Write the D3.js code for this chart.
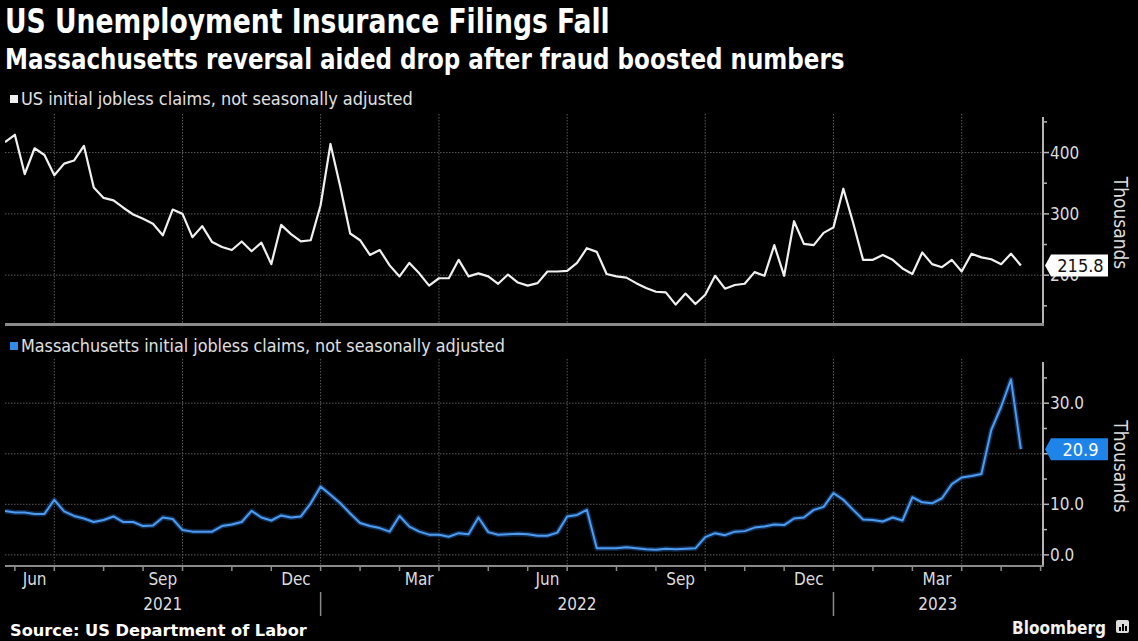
<!DOCTYPE html>
<html>
<head>
<meta charset="utf-8">
<script src="https://cdn.jsdelivr.net/npm/d3@7"></script>
<style>
  html, body { margin: 0; padding: 0; background: #000; }
  svg { display: block; }
  text { font-family: "DejaVu Sans Condensed", "DejaVu Sans", sans-serif; }
</style>
</head>
<body>
<svg id="chart" width="1138" height="641"></svg>
<script>
// Weekly observations (week ending Saturday), first week ending 2021-05-22
const firstWeek = "2021-05-22";
const lastAxisDay = "2023-05-28";

// US initial jobless claims, not seasonally adjusted (thousands)
const usClaims = [
  417, 429, 365, 407, 396, 363, 382, 387, 411, 343,
  326, 322, 310, 299, 292, 284, 265, 307, 300, 262,
  280, 254, 246, 241, 255, 239, 253, 218, 282, 267,
  255, 257, 314, 414, 344, 268, 257, 233, 241, 216,
  198, 220, 203, 183, 195, 195, 225, 198, 203, 198,
  186, 201, 188, 183, 187, 206, 206, 207, 220, 244,
  238, 202, 198, 196, 187, 179, 173, 172, 152, 170,
  153, 168, 199, 178, 184, 186, 205, 199, 249, 199,
  288, 251, 249, 269, 278, 341, 285, 225, 225, 233,
  225, 211, 202, 237, 218, 213, 225, 206, 235, 229,
  226, 218, 235, 215.8
];

// Massachusetts initial jobless claims, not seasonally adjusted (thousands)
const maClaims = [
  8.7, 8.4, 8.4, 8.1, 8.1, 10.9, 8.6, 7.7, 7.2, 6.5,
  6.9, 7.6, 6.5, 6.5, 5.7, 5.8, 7.4, 7.1, 4.9, 4.6,
  4.6, 4.6, 5.7, 6.0, 6.5, 8.7, 7.4, 6.8, 7.8, 7.4,
  7.6, 10.2, 13.5, 11.9, 10.2, 8.2, 6.3, 5.7, 5.3, 4.6,
  7.7, 5.6, 4.6, 4.0, 4.0, 3.6, 4.3, 4.1, 7.4, 4.5,
  4.0, 4.1, 4.2, 4.1, 3.8, 3.8, 4.4, 7.6, 7.9, 8.9,
  1.3, 1.3, 1.3, 1.5, 1.3, 1.1, 1.0, 1.2, 1.1, 1.2,
  1.3, 3.5, 4.3, 3.9, 4.6, 4.7, 5.4, 5.6, 6.0, 5.9,
  7.2, 7.4, 8.9, 9.5, 12.2, 10.9, 8.9, 7.0, 6.9, 6.6,
  7.4, 6.8, 11.4, 10.4, 10.2, 11.2, 14.0, 15.3, 15.6, 16.0,
  24.7, 29.3, 34.7, 20.9
];

// Axis ticks (the 20.0 label sits under the last-value tag, so only the tick is drawn)
const usTickValues = [150, 200, 250, 300, 350, 400, 450];
const usLabelValues = [200, 300, 400];
const usGridValues = [200, 300, 400];
const maTickValues = [0, 5, 10, 15, 20, 25, 30, 35];
const maLabelValues = [0, 10, 30];
const maGridValues = [0, 10, 20, 30];
const labelledMonths = ["Mar", "Jun", "Sep", "Dec"];
const years = [2021, 2022, 2023];

// Text
const titleText = "US Unemployment Insurance Filings Fall";
const subtitleText = "Massachusetts reversal aided drop after fraud boosted numbers";
const usLegend = "US initial jobless claims, not seasonally adjusted";
const maLegend = "Massachusetts initial jobless claims, not seasonally adjusted";
const unitLabel = "Thousands";
const sourceText = "Source: US Department of Labor";
const brandText = "Bloomberg";

const parse = d3.timeParse("%Y-%m-%d");
const start = parse(firstWeek);
const weeks = usClaims.map((_, i) => d3.timeDay.offset(start, 7 * i));

const svg = d3.select("#chart");
const W = 1138, H = 641;
svg.append("rect").attr("width", W).attr("height", H).attr("fill", "#000");

const plotLeft = 5, plotRight = 1042;
const x = d3.scaleTime().domain([start, parse(lastAxisDay)]).range([plotLeft, plotRight]);

const panelTop = { y0: 117, y1: 323 };
const panelBot = { y0: 362, y1: 565 };
const yUS = d3.scaleLinear().domain([122, 458]).range([panelTop.y1, panelTop.y0]);
const yMA = d3.scaleLinear().domain([-2, 38.15]).range([panelBot.y1, panelBot.y0]);

// Snap calendar boundaries to the weekly observation on or before them
const snap = d => d3.timeSaturday.floor(d);
const monthStarts = d3.timeMonth.range(parse("2021-05-01"), parse("2023-07-01"));
const monthTicks = monthStarts.map(snap).filter(d => d >= x.domain()[0] && d <= x.domain()[1]);
const quarterStarts = monthStarts.filter(d => d.getMonth() % 3 === 0).map(snap)
  .filter(d => d > x.domain()[0] && d < x.domain()[1]);

const gridColor = "#5a5a5a";

function drawPanel(g, y, p, ticks) {
  // horizontal grid
  g.selectAll(".hg").data(ticks).join("line")
    .attr("x1", plotLeft).attr("x2", plotRight + 1)
    .attr("y1", d => y(d)).attr("y2", d => y(d))
    .attr("stroke", gridColor).attr("stroke-width", 1).attr("stroke-dasharray", "1.5,1.5");
  // vertical grid
  g.selectAll(".vg").data(quarterStarts).join("line")
    .attr("x1", d => x(d)).attr("x2", d => x(d))
    .attr("y1", p.y0 - 3).attr("y2", p.y1)
    .attr("stroke", gridColor).attr("stroke-width", 1).attr("stroke-dasharray", "1.5,1.5");
}

const gTop = svg.append("g");
drawPanel(gTop, yUS, panelTop, usGridValues);
const gBot = svg.append("g");
drawPanel(gBot, yMA, panelBot, maGridValues);

// clip
const defs = svg.append("defs");
defs.append("clipPath").attr("id", "clipTop").append("rect")
  .attr("x", plotLeft).attr("y", panelTop.y0 - 5).attr("width", plotRight - plotLeft).attr("height", panelTop.y1 - panelTop.y0 + 5);
defs.append("clipPath").attr("id", "clipBot").append("rect")
  .attr("x", plotLeft).attr("y", panelBot.y0 - 5).attr("width", plotRight - plotLeft).attr("height", panelBot.y1 - panelBot.y0 + 5);

// lines
const usLine = d3.line().x((d, i) => x(weeks[i])).y(d => yUS(d));
const maLine = d3.line().x((d, i) => x(weeks[i])).y(d => yMA(d));

gTop.append("path").datum(usClaims).attr("clip-path", "url(#clipTop)")
  .attr("d", usLine).attr("fill", "none").attr("stroke", "#f0f0f0")
  .attr("stroke-width", 2.2).attr("stroke-linejoin", "round");

gBot.append("path").datum(maClaims).attr("clip-path", "url(#clipBot)")
  .attr("d", maLine).attr("fill", "none").attr("stroke", "#173d70")
  .attr("stroke-width", 5).attr("stroke-opacity", 0.7).attr("stroke-linejoin", "round");
gBot.append("path").datum(maClaims).attr("clip-path", "url(#clipBot)")
  .attr("d", maLine).attr("fill", "none").attr("stroke", "#4d9cf0")
  .attr("stroke-width", 2).attr("stroke-linejoin", "round");

// right axes
const axisColor = "#b4b4b4";
const labelColor = "#dcdcdc";
function rightAxis(g, y, p, tickVals, labelVals, fmt) {
  g.append("line").attr("x1", plotRight + 1).attr("x2", plotRight + 1)
    .attr("y1", p.y0).attr("y2", p.y1 + 1)
    .attr("stroke", axisColor).attr("stroke-width", 2);
  g.selectAll(".tk").data(tickVals).join("line")
    .attr("x1", plotRight + 1).attr("x2", d => plotRight + (d % (tickVals[2] - tickVals[0]) === 0 ? 7 : 5))
    .attr("y1", d => y(d)).attr("y2", d => y(d))
    .attr("stroke", axisColor).attr("stroke-width", 1.5);
  g.selectAll(".tl").data(labelVals).join("text")
    .attr("x", plotRight + 8).attr("y", d => y(d)).attr("dy", "0.36em")
    .attr("fill", labelColor).attr("font-size", 17)
    .text(fmt);
  g.append("text")
    .attr("transform", `translate(${1114},${(p.y0 + p.y1) / 2 + 3}) rotate(90)`)
    .attr("text-anchor", "middle").attr("fill", labelColor).attr("font-size", 19)
    .text(unitLabel);
}
rightAxis(gTop, yUS, panelTop, usTickValues, usLabelValues, d3.format("d"));
rightAxis(gBot, yMA, panelBot, maTickValues, maLabelValues, d3.format(".1f"));

// last-value tags
function callout(g, yv, value, fill, color, fmt) {
  const yc = yv;
  const x0 = plotRight + 3, x1 = plotRight + 9, x2 = plotRight + 66, h = 11;
  g.append("path")
    .attr("d", `M${x0},${yc} L${x1},${yc - h} L${x2},${yc - h} L${x2},${yc + h} L${x1},${yc + h} Z`)
    .attr("fill", fill);
  g.append("text").attr("x", (x1 + x2) / 2 + 1).attr("y", yc).attr("dy", "0.36em")
    .attr("text-anchor", "middle").attr("fill", color).attr("font-size", 18)
    .text(fmt(value));
}
callout(gTop, yUS(usClaims[usClaims.length - 1]), usClaims[usClaims.length - 1], "#ffffff", "#111", d3.format(".1f"));
callout(gBot, yMA(maClaims[maClaims.length - 1]), maClaims[maClaims.length - 1], "#1f84ea", "#ffffff", d3.format(".1f"));

// panel separator and bottom axis
svg.append("line").attr("x1", plotLeft).attr("x2", plotRight + 2)
  .attr("y1", panelTop.y1 + 1.5).attr("y2", panelTop.y1 + 1.5)
  .attr("stroke", "#8a8a8a").attr("stroke-width", 3);
svg.append("line").attr("x1", plotLeft).attr("x2", plotRight + 2)
  .attr("y1", panelBot.y1 + 1).attr("y2", panelBot.y1 + 1)
  .attr("stroke", "#8a8a8a").attr("stroke-width", 2);
svg.selectAll(".mt").data(monthTicks).join("line")
  .attr("x1", d => x(d)).attr("x2", d => x(d))
  .attr("y1", panelBot.y1 + 2).attr("y2", panelBot.y1 + 6)
  .attr("stroke", "#8a8a8a").attr("stroke-width", 1.5);

// month labels centred on each labelled month's span
const fmtMonth = d3.timeFormat("%b");
const monthSpans = monthStarts.slice(0, -1).map((m, i) => ({
  name: fmtMonth(m), a: snap(m), b: snap(monthStarts[i + 1])
})).filter(s => labelledMonths.includes(s.name) && s.a >= x.domain()[0] && s.b <= x.domain()[1]);
svg.selectAll(".ml").data(monthSpans).join("text")
  .attr("x", d => (x(d.a) + x(d.b)) / 2).attr("y", 585)
  .attr("text-anchor", "middle").attr("fill", labelColor).attr("font-size", 17)
  .text(d => d.name);

// year labels and separators
const yearSpans = years.map(yr => {
  const a = Math.max(x(snap(new Date(yr, 0, 1))), plotLeft);
  const b = Math.min(x(snap(new Date(yr + 1, 0, 1))), plotRight);
  return { yr, a, b };
});
svg.selectAll(".yl").data(yearSpans).join("text")
  .attr("x", d => (d.a + d.b) / 2).attr("y", 610)
  .attr("text-anchor", "middle").attr("fill", labelColor).attr("font-size", 17)
  .text(d => d.yr);
svg.selectAll(".ys").data(years.slice(1)).join("line")
  .attr("x1", d => x(snap(new Date(d, 0, 1)))).attr("x2", d => x(snap(new Date(d, 0, 1))))
  .attr("y1", 592).attr("y2", 616)
  .attr("stroke", "#8a8a8a").attr("stroke-width", 1.5);

// headings and legends: size each text to its width, optionally in a narrower cut
function fit(sel, width, stretch = 1) {
  const len = sel.node().getComputedTextLength();
  const fs = parseFloat(sel.attr("font-size"));
  sel.attr("font-size", fs * width / len * stretch);
  if (stretch !== 1) {
    const tx = +sel.attr("x"), ty = +sel.attr("y");
    sel.attr("x", 0).attr("y", 0)
      .attr("transform", `translate(${tx},${ty}) scale(${1 / stretch},1)`);
  }
  return sel;
}
fit(svg.append("text").attr("x", 5).attr("y", 33).attr("font-size", 30)
  .attr("font-weight", "bold").attr("fill", "#fff")
  .text(titleText), 605, 1.13);
fit(svg.append("text").attr("x", 5).attr("y", 69).attr("font-size", 22)
  .attr("font-weight", "bold").attr("fill", "#fff")
  .text(subtitleText), 840, 1.1);

svg.append("rect").attr("x", 10).attr("y", 95).attr("width", 8).attr("height", 8).attr("fill", "#f0f0f0");
fit(svg.append("text").attr("x", 21).attr("y", 105).attr("font-size", 15)
  .attr("fill", "#e0e0e0").text(usLegend), 392);
svg.append("rect").attr("x", 10).attr("y", 342).attr("width", 8).attr("height", 8).attr("fill", "#2f8ae8");
fit(svg.append("text").attr("x", 21).attr("y", 352).attr("font-size", 15)
  .attr("fill", "#e0e0e0").text(maLegend), 484);

fit(svg.append("text").attr("x", 10).attr("y", 636).attr("font-size", 15)
  .attr("font-weight", "bold").attr("fill", "#fff")
  .style("font-family", "'DejaVu Sans', sans-serif").text(sourceText), 297);
fit(svg.append("text").attr("x", 1012).attr("y", 634).attr("font-size", 17)
  .attr("font-weight", "bold").attr("fill", "#f0f0f0")
  .text(brandText), 94);
// small brand mark
const bm = svg.append("g").attr("transform", "translate(1116,620)");
bm.append("rect").attr("width", 13).attr("height", 13).attr("rx", 2).attr("fill", "#dcdcdc");
bm.selectAll(".bb").data([4, 7, 5]).join("rect")
  .attr("x", (d, i) => 3 + i * 3).attr("y", d => 11 - d).attr("width", 2).attr("height", d => d)
  .attr("fill", "#000");
</script>
</body>
</html>
